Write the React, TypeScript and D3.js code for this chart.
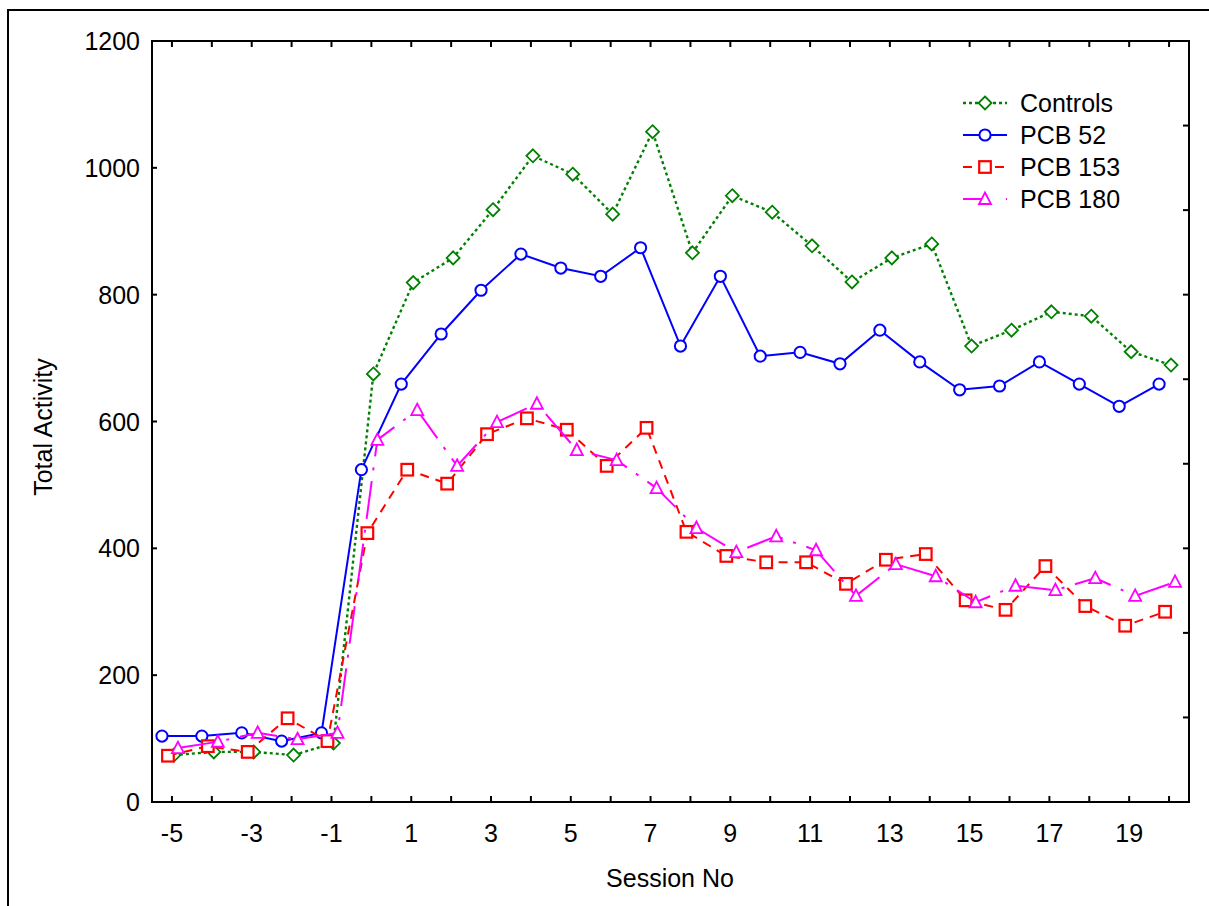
import React, {useEffect, useRef} from "react"
import * as d3 from "d3"

const sessions = [-5, -4, -3, -2, -1, 0, 1, 2, 3, 4, 5, 6, 7, 8, 9, 10, 11, 12, 13, 14, 15, 16, 17, 18, 19, 20]
const xTickLabels = [-5, -3, -1, 1, 3, 5, 7, 9, 11, 13, 15, 17, 19]
const yTickLabels = [0, 200, 400, 600, 800, 1000, 1200]

const controls = [74, 79, 79, 74, 93, 675, 819, 858, 934, 1019, 990, 927, 1057, 866, 956, 930, 877, 820, 858, 880, 719, 744, 773, 766, 710, 689]
const pcb52 = [104, 104, 109, 96, 109, 524, 659, 738, 807, 864, 842, 829, 874, 719, 829, 703, 709, 691, 744, 694, 650, 656, 694, 659, 624, 659]
const pcb153 = [73, 88, 79, 132, 96, 424, 524, 502, 580, 605, 587, 530, 590, 426, 388, 378, 378, 344, 382, 391, 318, 303, 372, 309, 278, 300]
const pcb180 = [85, 95, 109, 99, 109, 571, 618, 530, 599, 628, 555, 539, 495, 432, 394, 419, 397, 325, 375, 356, 315, 341, 334, 353, 325, 347]

const seriesNames = ["Controls", "PCB 52", "PCB 153", "PCB 180"]

// look of each series (the small x shift is how the original plot spreads the groups)
const styles = [
    {color: "#008000", dash: "3,3", width: 2.4, shift: 0.05, marker: "diamond"},
    {color: "#0000ff", dash: null, width: 2, shift: -0.25, marker: "circle"},
    {color: "#ff0000", dash: "9,7", width: 2, shift: -0.1, marker: "square"},
    {color: "#ff00ff", dash: "38,11,3,11", width: 2, shift: 0.15, marker: "triangle"},
]

const FONT = "Arial, 'Liberation Sans', Helvetica, sans-serif"

function drawMarker(g: any, kind: string, cx: number, cy: number, color: string) {
    if (kind === "circle") {
        g.append("circle").attr("cx", cx).attr("cy", cy).attr("r", 5.6)
            .attr("fill", "white").attr("stroke", color).attr("stroke-width", 2)
    } else if (kind === "square") {
        g.append("rect").attr("x", cx - 5.8).attr("y", cy - 5.8).attr("width", 11.6).attr("height", 11.6)
            .attr("fill", "white").attr("stroke", color).attr("stroke-width", 2.2)
    } else if (kind === "diamond") {
        g.append("path").attr("d", `M${cx},${cy - 6.5}L${cx + 6.5},${cy}L${cx},${cy + 6.5}L${cx - 6.5},${cy}Z`)
            .attr("fill", "white").attr("stroke", color).attr("stroke-width", 1.8)
    } else {
        g.append("path").attr("d", `M${cx},${cy - 6.5}L${cx + 6},${cy + 5}L${cx - 6},${cy + 5}Z`)
            .attr("fill", "white").attr("stroke", color).attr("stroke-width", 1.8)
    }
}

export default function App() {
    const ref = useRef<SVGSVGElement>(null)

    useEffect(() => {
        const svg = d3.select(ref.current)
        svg.selectAll("*").remove()

        const left = 152, right = 1189, top = 41, bottom = 802

        const x = d3.scaleLinear().domain([-5.5, 20.5]).range([left, right])
        const y = d3.scaleLinear().domain([0, 1200]).range([bottom, top])

        // outer border of the figure
        svg.append("rect").attr("x", 8).attr("y", 10).attr("width", 1220).attr("height", 920)
            .attr("fill", "none").attr("stroke", "black").attr("stroke-width", 2)

        // ticks
        const ticks = svg.append("g").attr("stroke", "black").attr("stroke-width", 2)
        sessions.forEach(s => {
            ticks.append("line").attr("x1", x(s)).attr("x2", x(s)).attr("y1", bottom).attr("y2", bottom - 6)
            ticks.append("line").attr("x1", x(s)).attr("x2", x(s)).attr("y1", top).attr("y2", top + 6)
        })
        yTickLabels.forEach(v => {
            ticks.append("line").attr("x1", left).attr("x2", left + 5).attr("y1", y(v)).attr("y2", y(v))
        })
        d3.range(1, 9).forEach(i => {
            const yy = y(1200 * i / 9)
            ticks.append("line").attr("x1", right).attr("x2", right - 6).attr("y1", yy).attr("y2", yy)
        })

        // frame
        svg.append("rect").attr("x", left).attr("y", top).attr("width", right - left).attr("height", bottom - top)
            .attr("fill", "none").attr("stroke", "black").attr("stroke-width", 2)

        // tick labels
        svg.append("g").selectAll("text").data(xTickLabels).join("text")
            .attr("x", d => x(d)).attr("y", 842).attr("text-anchor", "middle")
            .attr("font-family", FONT).attr("font-size", 25)
            .text(d => String(d))
        svg.append("g").selectAll("text").data(yTickLabels).join("text")
            .attr("x", 140).attr("y", d => y(d)).attr("text-anchor", "end").attr("dominant-baseline", "central")
            .attr("font-family", FONT).attr("font-size", 25)
            .text(d => String(d))

        // axis titles
        svg.append("text").attr("x", 670).attr("y", 887).attr("text-anchor", "middle")
            .attr("font-family", FONT).attr("font-size", 25).text("Session No")
        svg.append("text").attr("transform", "translate(52,427) rotate(-90)").attr("text-anchor", "middle")
            .attr("font-family", FONT).attr("font-size", 25).text("Total Activity")

        const data = [controls, pcb52, pcb153, pcb180]

        data.forEach((vals, i) => {
            const st = styles[i]
            const g = svg.append("g")
            const line = d3.line<number>()
                .x((d, j) => x(sessions[j] + st.shift))
                .y(d => y(d))
            const p = g.append("path").attr("d", line(vals))
                .attr("fill", "none").attr("stroke", st.color).attr("stroke-width", st.width)
            if (st.dash) p.attr("stroke-dasharray", st.dash)
            vals.forEach((v, j) => drawMarker(g, st.marker, x(sessions[j] + st.shift), y(v), st.color))
        })

        // legend
        const lg = svg.append("g")
        seriesNames.forEach((name, i) => {
            const st = styles[i]
            const yy = 103 + i * 32
            const l = lg.append("line").attr("x1", 963).attr("x2", 1007).attr("y1", yy).attr("y2", yy)
                .attr("stroke", st.color).attr("stroke-width", st.width)
            if (st.dash) l.attr("stroke-dasharray", i === 3 ? "24,19,3,8" : st.dash)
            drawMarker(lg, st.marker, 985, yy, st.color)
            lg.append("text").attr("x", 1020).attr("y", yy).attr("dominant-baseline", "central")
                .attr("font-family", FONT).attr("font-size", 25).text(name)
        })
    }, [])

    return (
        <div>
            <svg ref={ref} width={1209} height={906}
                 style={{position: "absolute", left: 0, top: 0, background: "white"}}></svg>
        </div>
    )
}
